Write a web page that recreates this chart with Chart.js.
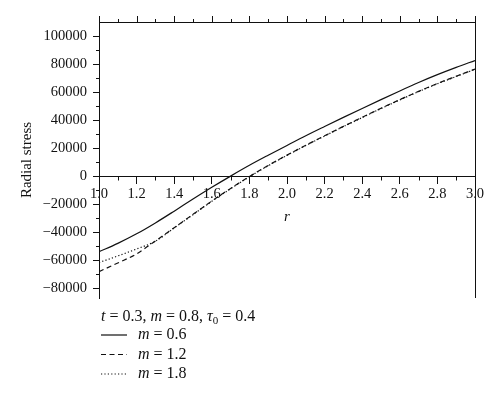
<!DOCTYPE html>
<html>
<head>
<meta charset="utf-8">
<script src="https://cdn.jsdelivr.net/npm/chart.js@4.4.1/dist/chart.umd.min.js"></script>
<style>
  html, body { margin: 0; padding: 0; background: #fff; }
</style>
</head>
<body>
<canvas id="chart" width="500" height="400"></canvas>
<script>
// r values along the x axis
const rValues = [1.0, 1.1, 1.2, 1.3, 1.4, 1.5, 1.6, 1.7, 1.8, 1.9, 2.0,
                 2.1, 2.2, 2.3, 2.4, 2.5, 2.6, 2.7, 2.8, 2.9, 3.0];

// radial stress, one list per m
const stressM06 = [-54000, -48000, -41200, -33400, -25000, -16400, -8000, 0, 7700, 14900, 21900,
                   28800, 35400, 41900, 48300, 54600, 60800, 66800, 72400, 77600, 82500];
const stressM12 = [-68200, -62000, -55500, -46300, -36800, -27300, -17800, -8800, -300, 7600, 15000,
                   22000, 28800, 35500, 42000, 48400, 54600, 60500, 66100, 71300, 76400];
const stressM18 = [-61700, -57000, -52000, -46500, -37000, -27500, -18000, -9000, -500, 7400, 14800,
                   21800, 28600, 35300, 41800, 48200, 54400, 60300, 65900, 71100, 76200];

const mLabels = ['0.6', '1.2', '1.8'];
const paramText = [['t', 'i'], [' = 0.3, '], ['m', 'i'], [' = 0.8, '], ['\u03c4', 'i'], ['0', 'sub'], [' = 0.4']];

const xTickValues = [1.0, 1.2, 1.4, 1.6, 1.8, 2.0, 2.2, 2.4, 2.6, 2.8, 3.0];
const yTickValues = [-80000, -60000, -40000, -20000, 0, 20000, 40000, 60000, 80000, 100000];

const serif = '"Liberation Serif", "DejaVu Serif", serif';
const ink = '#111';

function midpoints(arr) {
  const out = [];
  for (let i = 0; i < arr.length - 1; i++) out.push((arr[i] + arr[i + 1]) / 2);
  return out;
}

function drawRuns(ctx, runs, x, y) {
  runs.forEach(([text, style]) => {
    const sub = style === 'sub';
    ctx.font = (style === 'i' ? 'italic ' : '') + (sub ? '11px ' : '16px ') + serif;
    ctx.fillText(text, x, sub ? y + 4 : y);
    x += ctx.measureText(text).width;
  });
}

// frame, minor ticks and the legend block under the plot
const framePlugin = {
  id: 'frame',
  afterDraw(chart) {
    const { ctx, chartArea: a, scales: { x, y } } = chart;
    const snap = v => Math.round(v) + 0.5;
    ctx.save();
    ctx.strokeStyle = ink;
    ctx.lineWidth = 1;
    ctx.beginPath();
    ctx.moveTo(a.left, snap(a.top)); ctx.lineTo(a.right, snap(a.top));
    ctx.moveTo(snap(a.right), a.top); ctx.lineTo(snap(a.right), a.bottom);
    xTickValues.forEach(v => {
      const px = snap(x.getPixelForValue(v));
      ctx.moveTo(px, a.top); ctx.lineTo(px, a.top - 6);
    });
    const y0 = snap(y.getPixelForValue(0));
    midpoints(xTickValues).forEach(v => {
      const px = snap(x.getPixelForValue(v));
      ctx.moveTo(px, a.top); ctx.lineTo(px, a.top - 3);
      ctx.moveTo(px, y0); ctx.lineTo(px, y0 + 4);
    });
    midpoints(yTickValues).forEach(v => {
      const py = snap(y.getPixelForValue(v));
      ctx.moveTo(a.left, py); ctx.lineTo(a.left - 3, py);
    });
    ctx.stroke();

    // legend
    ctx.fillStyle = ink;
    ctx.textBaseline = 'middle';
    const lx = a.left + 2;
    drawRuns(ctx, paramText, lx, a.bottom + 19);
    chart.data.datasets.forEach((ds, i) => {
      const ly = a.bottom + 37 + i * 19.5;
      ctx.setLineDash(ds.borderDash || []);
      ctx.lineWidth = ds.borderWidth;
      ctx.beginPath();
      ctx.moveTo(lx, ly); ctx.lineTo(lx + 26, ly);
      ctx.stroke();
      ctx.setLineDash([]);
      drawRuns(ctx, [['m', 'i'], [' = ' + mLabels[i]]], lx + 37, ly);
    });
    ctx.restore();
  }
};

const toPoints = arr => rValues.map((r, i) => ({ x: r, y: arr[i] }));

new Chart(document.getElementById('chart'), {
  type: 'line',
  data: {
    datasets: [
      { label: 'm = ' + mLabels[0], data: toPoints(stressM06), borderDash: [] },
      { label: 'm = ' + mLabels[1], data: toPoints(stressM12), borderDash: [5, 3.5] },
      { label: 'm = ' + mLabels[2], data: toPoints(stressM18), borderDash: [1.2, 2.2] }
    ].map(ds => Object.assign(ds, {
      borderColor: ink,
      borderWidth: 1.2,
      pointRadius: 0,
      fill: false,
      cubicInterpolationMode: 'monotone'
    }))
  },
  options: {
    responsive: false,
    animation: false,
    layout: { padding: { left: 18, right: 25, top: 22, bottom: 102 } },
    plugins: { legend: { display: false }, tooltip: { enabled: false } },
    scales: {
      x: {
        type: 'linear',
        position: { y: 0 },
        min: 1, max: 3,
        afterBuildTicks: s => { s.ticks = xTickValues.map(v => ({ value: v })); },
        ticks: {
          autoSkip: false, maxRotation: 0, padding: 2, color: ink,
          font: { family: serif, size: 14.5 },
          callback: v => v.toFixed(1)
        },
        grid: { drawOnChartArea: false, tickLength: 7, tickColor: ink, tickWidth: 1 },
        border: { color: ink, width: 1 },
        title: { display: true, text: 'r', color: ink, padding: { top: 4, bottom: 0 },
                 font: { family: serif, size: 15, style: 'italic' } }
      },
      y: {
        position: 'left',
        min: -87000, max: 110000,
        afterFit: s => { s.width = 81; },
        afterBuildTicks: s => { s.ticks = yTickValues.map(v => ({ value: v })); },
        ticks: {
          padding: 6, color: ink,
          font: { family: serif, size: 14.5 },
          callback: v => (v < 0 ? '\u2212' + Math.abs(v) : String(v))
        },
        grid: { drawOnChartArea: false, tickLength: 6, tickColor: ink, tickWidth: 1 },
        border: { color: ink, width: 1 },
        title: { display: true, text: 'Radial stress', color: ink, padding: 0,
                 font: { family: serif, size: 15 } }
      }
    }
  },
  plugins: [framePlugin]
});
</script>
</body>
</html>
